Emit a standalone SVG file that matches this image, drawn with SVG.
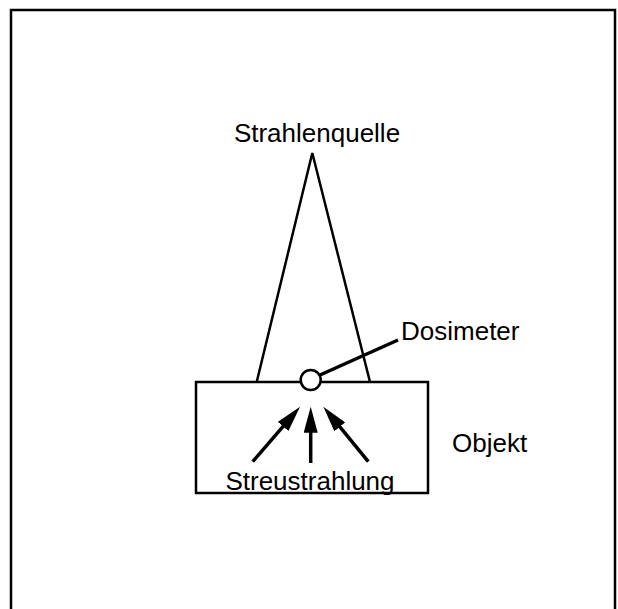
<svg xmlns="http://www.w3.org/2000/svg" width="618" height="609" viewBox="0 0 618 609">
<style>
text{font-family:"Liberation Sans",Arial,sans-serif;font-size:26px;fill:#000}
.s{fill:none;stroke:#000;stroke-width:2.5}
.a{fill:none;stroke:#000;stroke-width:3.5}
</style>
<defs>
<marker id="ah" markerUnits="userSpaceOnUse" markerWidth="26" markerHeight="14" refX="6" refY="7" orient="auto" viewBox="0 0 26 14">
<path d="M0,0 L26,7 L0,14 z" fill="#000"/>
</marker>
</defs>
<rect width="618" height="609" fill="#fff"/>
<path class="s" d="M11,609 V10 H615 V609"/>
<g id="quelle">
<path class="s" d="M256.7,382 L312.3,153 L370,382"/>
<text x="317" y="142" text-anchor="middle">Strahlenquelle</text>
</g>
<g id="objekt">
<rect class="s" x="196" y="382" width="232" height="111"/>
<text x="452" y="452">Objekt</text>
</g>
<g id="dosimeter">
<circle cx="310.7" cy="380" r="10" fill="#fff" stroke="#000" stroke-width="2.5"/>
<text x="401" y="340">Dosimeter</text>
</g>
<g id="streustrahlung">
<text x="310" y="490" text-anchor="middle">Streustrahlung</text>
</g>
<g id="connectors">
<line class="a" x1="320" y1="375" x2="398" y2="340"/>
<line class="a" x1="252.7" y1="461.7" x2="287" y2="421.9" marker-end="url(#ah)"/>
<line class="a" x1="310.7" y1="463" x2="310.7" y2="426.7" marker-end="url(#ah)"/>
<line class="a" x1="368.3" y1="461.7" x2="336" y2="422.2" marker-end="url(#ah)"/>
</g>
</svg>
